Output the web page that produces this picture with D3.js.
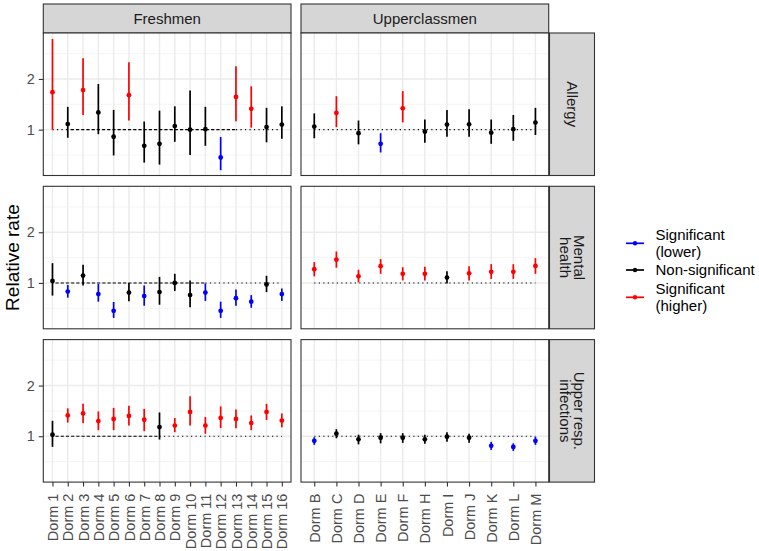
<!DOCTYPE html>
<html><head><meta charset="utf-8">
<script src="https://cdn.jsdelivr.net/npm/d3@7"></script>
<style>body{margin:0;background:#fff}svg{display:block;font-family:"Liberation Sans",Arial,sans-serif}</style>
</head><body><svg id="c" width="759" height="551"></svg>
<script>
// ---------- data ----------
const freshmenDorms = ["Dorm 1","Dorm 2","Dorm 3","Dorm 4","Dorm 5","Dorm 6","Dorm 7","Dorm 8","Dorm 9","Dorm 10","Dorm 11","Dorm 12","Dorm 13","Dorm 14","Dorm 15","Dorm 16"];
const upperDorms = ["Dorm B","Dorm C","Dorm D","Dorm E","Dorm F","Dorm H","Dorm I","Dorm J","Dorm K","Dorm L","Dorm M"];
const groups = ["Freshmen","Upperclassmen"];
const outcomes = ["Allergy","Mental health","Upper resp. infections"];
const outcomeLines = [["Allergy"],["Mental","health"],["Upper resp.","infections"]];
const yTicks = [1,2];
const yMinor = [0.5,1.5,2.5];
const sigLevels = ["L","N","H"];
const sigLabels = [["Significant","(lower)"],["Non-significant"],["Significant","(higher)"]];
const sigColors = ["#0000FF","#000000","#FF0000"];

// Allergy
const allergyFreshEst = [1.74,1.11,1.78,1.34,0.86,1.68,0.68,0.72,1.07,1.00,1.01,0.45,1.645,1.41,1.05,1.10];
const allergyFreshLo  = [1.00,0.84,1.29,0.91,0.49,1.18,0.35,0.31,0.76,0.50,0.68,0.20,1.165,1.04,0.75,0.82];
const allergyFreshHi  = [2.79,1.45,2.41,1.90,1.39,2.33,1.16,1.375,1.46,1.77,1.45,0.855,2.25,1.855,1.43,1.46];
const allergyFreshSig = ["H","N","H","N","N","H","N","N","N","N","N","L","H","H","N","N"];
const allergyUpperEst = [1.06,1.33,0.93,0.72,1.42,0.96,1.10,1.105,0.94,1.01,1.14];
const allergyUpperLo  = [0.83,1.05,0.71,0.55,1.145,0.74,0.86,0.86,0.72,0.78,0.895];
const allergyUpperHi  = [1.32,1.66,1.18,0.93,1.76,1.20,1.39,1.40,1.20,1.29,1.43];
const allergyUpperSig = ["N","H","N","L","H","N","N","N","N","N","N"];
// Mental health
const mentalFreshEst = [1.04,0.83,1.145,0.78,0.45,0.81,0.74,0.82,1.00,0.76,0.81,0.45,0.70,0.63,0.97,0.78];
const mentalFreshLo  = [0.75,0.71,0.95,0.63,0.31,0.64,0.55,0.57,0.84,0.52,0.645,0.31,0.55,0.51,0.82,0.645];
const mentalFreshHi  = [1.39,0.96,1.36,0.98,0.625,1.00,0.95,1.12,1.18,1.05,0.99,0.63,0.87,0.76,1.14,0.89];
const mentalFreshSig = ["N","L","N","L","L","N","L","N","N","N","L","L","L","L","N","L"];
const mentalUpperEst = [1.27,1.46,1.13,1.33,1.18,1.18,1.105,1.19,1.22,1.22,1.335];
const mentalUpperLo  = [1.13,1.30,1.01,1.18,1.05,1.05,0.99,1.05,1.08,1.08,1.18];
const mentalUpperHi  = [1.41,1.62,1.26,1.47,1.31,1.32,1.23,1.33,1.37,1.37,1.49];
const mentalUpperSig = ["H","H","H","H","H","H","N","H","H","H","H"];
// Upper respiratory infections
const respFreshEst = [1.03,1.41,1.45,1.30,1.34,1.40,1.325,1.18,1.21,1.48,1.21,1.36,1.34,1.26,1.48,1.31];
const respFreshLo  = [0.79,1.27,1.26,1.12,1.12,1.21,1.10,0.935,1.08,1.21,1.05,1.16,1.16,1.12,1.32,1.175];
const respFreshHi  = [1.305,1.55,1.64,1.49,1.56,1.60,1.54,1.47,1.36,1.79,1.38,1.59,1.53,1.41,1.64,1.45];
const respFreshSig = ["N","H","H","H","H","H","H","N","H","H","H","H","H","H","H","H"];
const respUpperEst = [0.91,1.05,0.94,0.97,0.97,0.94,0.99,0.97,0.81,0.79,0.91];
const respUpperLo  = [0.83,0.96,0.84,0.86,0.87,0.85,0.89,0.87,0.73,0.71,0.83];
const respUpperHi  = [0.98,1.14,1.03,1.06,1.06,1.03,1.08,1.05,0.89,0.86,0.99];
const respUpperSig = ["L","N","N","N","N","N","N","N","L","L","L"];

const panelData = [
  [[allergyFreshEst,allergyFreshLo,allergyFreshHi,allergyFreshSig],[allergyUpperEst,allergyUpperLo,allergyUpperHi,allergyUpperSig]],
  [[mentalFreshEst,mentalFreshLo,mentalFreshHi,mentalFreshSig],[mentalUpperEst,mentalUpperLo,mentalUpperHi,mentalUpperSig]],
  [[respFreshEst,respFreshLo,respFreshHi,respFreshSig],[respUpperEst,respUpperLo,respUpperHi,respUpperSig]]
];
// dashed-looking stretch of the reference line (category index range) per freshmen row
const refDashRange = [[1,12],[0,10],[0,7]];

// ---------- layout ----------
const svg = d3.select("#c");
const colX = [43.3, 301];
const panelW = 247.7;
const rowY = [33, 186.3, 339.6];
const panelH = 142.5;
const stripTop = 4;
const stripRightX = 549.5, stripRightW = 45;
const dormsByCol = [freshmenDorms, upperDorms];
const color = d3.scaleOrdinal().domain(sigLevels).range(sigColors);
const tickFont = 14.5;

groups.forEach((g, ci) => {
  svg.append("rect").attr("x", colX[ci]).attr("y", stripTop).attr("width", panelW).attr("height", rowY[0]-stripTop)
    .attr("fill", "#D6D6D6").attr("stroke", "#333333").attr("stroke-width", 1.1);
  svg.append("text").attr("x", colX[ci]+panelW/2).attr("y", (stripTop+rowY[0])/2).attr("dy", "0.35em")
    .attr("text-anchor", "middle").attr("font-size", 15).attr("fill", "#1A1A1A").text(g);
});

function refLine(p, x1, x2, yy, dash) {
  p.append("line").attr("x1", x1).attr("x2", x2).attr("y1", yy).attr("y2", yy)
    .attr("stroke", "#000").attr("stroke-width", 1.1).attr("stroke-dasharray", dash);
}

outcomes.forEach((o, ri) => {
  const y = d3.scaleLinear().domain([0.095, 2.907]).range([rowY[ri]+panelH, rowY[ri]]);
  groups.forEach((g, ci) => {
    const x = d3.scalePoint().domain(dormsByCol[ci]).range([colX[ci], colX[ci]+panelW]).padding(0.6);
    const p = svg.append("g");
    p.append("rect").attr("x", colX[ci]).attr("y", rowY[ri]).attr("width", panelW).attr("height", panelH).attr("fill", "#fff");
    p.selectAll(".mn").data(yMinor).enter().append("line")
      .attr("x1", colX[ci]).attr("x2", colX[ci]+panelW).attr("y1", d=>y(d)).attr("y2", d=>y(d))
      .attr("stroke", "#F2F2F2").attr("stroke-width", 0.8);
    p.selectAll(".mj").data(yTicks).enter().append("line")
      .attr("x1", colX[ci]).attr("x2", colX[ci]+panelW).attr("y1", d=>y(d)).attr("y2", d=>y(d))
      .attr("stroke", "#EBEBEB").attr("stroke-width", 1.4);
    p.selectAll(".vg").data(dormsByCol[ci]).enter().append("line")
      .attr("x1", d=>x(d)).attr("x2", d=>x(d)).attr("y1", rowY[ri]).attr("y2", rowY[ri]+panelH)
      .attr("stroke", "#EBEBEB").attr("stroke-width", 1.4);
    // reference line at 1
    const dorms = dormsByCol[ci];
    const xs = x(dorms[0]), xe = x(dorms[dorms.length-1]);
    if (ci === 0) {
      const r = refDashRange[ri];
      const a = x(dorms[r[0]]) + 3, b = x(dorms[r[1]]);
      if (a > xs) refLine(p, xs, a, y(1), "1.2,3.3");
      refLine(p, a, b, y(1), "3.2,2");
      refLine(p, b, xe, y(1), "1.2,3.3");
    } else {
      refLine(p, xs, xe, y(1), "1.2,3.3");
    }
    // data
    const [est, lo, hi, sig] = panelData[ri][ci];
    const rows = dorms.map((d, i) => ({d, est: est[i], lo: lo[i], hi: hi[i], sig: sig[i]}));
    p.selectAll(".eb").data(rows).enter().append("line")
      .attr("x1", r=>x(r.d)).attr("x2", r=>x(r.d)).attr("y1", r=>y(r.lo)).attr("y2", r=>y(r.hi))
      .attr("stroke", r=>color(r.sig)).attr("stroke-width", 1.7);
    p.selectAll(".pt").data(rows).enter().append("circle")
      .attr("cx", r=>x(r.d)).attr("cy", r=>y(r.est)).attr("r", 2.4).attr("fill", r=>color(r.sig));
    p.append("rect").attr("x", colX[ci]).attr("y", rowY[ri]).attr("width", panelW).attr("height", panelH)
      .attr("fill", "none").attr("stroke", "#333333").attr("stroke-width", 1.1);
    if (ci === 0) {
      const ax = svg.append("g").attr("transform", `translate(${colX[0]},0)`)
        .call(d3.axisLeft(y).tickValues(yTicks).tickFormat(d3.format("d")).tickSize(4.5).tickPadding(4));
      ax.select(".domain").remove();
      ax.selectAll(".tick line").attr("stroke", "#333333").attr("stroke-width", 1.1);
      ax.selectAll(".tick text").attr("font-size", tickFont).attr("fill", "#4D4D4D")
        .attr("font-family", "Liberation Sans, Arial, sans-serif");
    }
    if (ri === outcomes.length-1) {
      const ax = svg.append("g").attr("transform", `translate(0,${rowY[ri]+panelH})`)
        .call(d3.axisBottom(x).tickSize(4.5).tickPadding(2));
      ax.select(".domain").remove();
      ax.selectAll(".tick line").attr("stroke", "#333333").attr("stroke-width", 1.1);
      ax.selectAll(".tick text").attr("font-size", tickFont).attr("fill", "#4D4D4D")
        .attr("font-family", "Liberation Sans, Arial, sans-serif")
        .attr("transform", "rotate(-90)").attr("text-anchor", "end")
        .attr("x", -11.5).attr("y", 0).attr("dy", "0.35em");
    }
  });
  svg.append("rect").attr("x", stripRightX).attr("y", rowY[ri]).attr("width", stripRightW).attr("height", panelH)
    .attr("fill", "#D6D6D6").attr("stroke", "#333333").attr("stroke-width", 1.1);
  const lines = outcomeLines[ri];
  const cx = stripRightX + stripRightW/2, cy = rowY[ri] + panelH/2;
  const t = svg.append("text").attr("transform", `translate(${cx},${cy}) rotate(90)`)
    .attr("text-anchor", "middle").attr("font-size", 15).attr("fill", "#1A1A1A");
  lines.forEach((l, i) => {
    t.append("tspan").attr("x", 0).attr("y", (i - (lines.length-1)/2) * 14.5).attr("dy", "0.35em").text(l);
  });
});

svg.append("text").attr("transform", `translate(19,${rowY[0] + (rowY[2]+panelH-rowY[0])/2}) rotate(-90)`)
  .attr("text-anchor", "middle").attr("font-size", 19).attr("fill", "#000").text("Relative rate");

const legKeyY = [243.3, 270, 297.3];
const leg = svg.append("g");
sigLevels.forEach((s, i) => {
  leg.append("line").attr("x1", 626).attr("x2", 644).attr("y1", legKeyY[i]).attr("y2", legKeyY[i])
    .attr("stroke", color(s)).attr("stroke-width", 1.7);
  leg.append("circle").attr("cx", 635).attr("cy", legKeyY[i]).attr("r", 2.2).attr("fill", color(s));
  const lines = sigLabels[i];
  const t = leg.append("text").attr("font-size", 15).attr("fill", "#000");
  lines.forEach((l, j) => {
    t.append("tspan").attr("x", 655.5).attr("y", legKeyY[i] + (j - (lines.length-1)/2) * 16.5).attr("dy", "0.35em").text(l);
  });
});
</script>
</body></html>
